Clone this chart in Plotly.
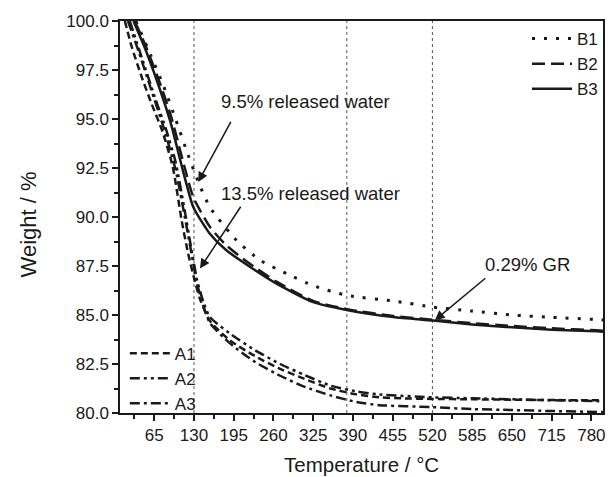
import plotly.graph_objects as go

# ---- data ----
b1_t = [35, 60, 80, 101, 120, 137, 156, 200, 238, 282, 325, 380, 460, 521, 585, 650, 715, 789, 799]
b1_w = [100, 98.2, 96.7, 94.9, 93.2, 91.8, 90.5, 88.8, 87.8, 87.1, 86.5, 86.0, 85.7, 85.4, 85.2, 85.0, 84.88, 84.77, 84.75]

b2_t = [33, 50, 70, 91, 115, 129, 156, 183, 222, 265, 325, 380, 456, 521, 585, 650, 715, 789, 799]
b2_w = [100, 98.8, 97.2, 95.3, 92.5, 91.0, 89.5, 88.55, 87.6, 86.7, 85.72, 85.3, 84.95, 84.76, 84.58, 84.44, 84.32, 84.22, 84.2]

b3_t = [31, 50, 70, 91, 115, 129, 156, 183, 222, 265, 325, 380, 456, 521, 585, 650, 715, 789, 799]
b3_w = [100, 98.6, 96.9, 94.9, 92.0, 90.5, 89.15, 88.3, 87.45, 86.6, 85.66, 85.26, 84.9, 84.72, 84.52, 84.37, 84.25, 84.17, 84.15]

a1_t = [17, 28, 45, 61, 78, 95, 110, 120, 130, 140, 156, 189, 230, 271, 310, 353, 396, 433, 470, 520, 585, 650, 715, 799]
a1_w = [100, 98.7, 97.1, 95.75, 94.4, 92.6, 89.8, 88.2, 86.9, 85.8, 84.7, 83.7, 82.9, 82.25, 81.75, 81.25, 80.95, 80.8, 80.75, 80.72, 80.7, 80.68, 80.66, 80.65]

a2_t = [25, 45, 65, 85, 100, 115, 125, 135, 145, 156, 189, 230, 271, 310, 353, 396, 433, 520, 585, 650, 715, 799]
a2_w = [100, 98.1, 96.2, 94.4, 92.8, 90.3, 88.5, 86.8, 85.7, 84.9, 84.05, 83.2, 82.5, 81.95, 81.4, 81.1, 80.95, 80.8, 80.75, 80.7, 80.65, 80.6]

a3_t = [22, 40, 60, 80, 100, 115, 125, 135, 145, 156, 189, 230, 271, 310, 353, 396, 433, 520, 585, 650, 715, 799]
a3_w = [100, 98.4, 96.5, 94.6, 92.4, 90.0, 88.3, 86.6, 85.5, 84.6, 83.55, 82.6, 81.9, 81.35, 80.9, 80.56, 80.4, 80.3, 80.2, 80.15, 80.1, 80.05]

x_ticks = [65, 130, 195, 260, 325, 390, 455, 520, 585, 650, 715, 780]
y_ticks = [80.0, 82.5, 85.0, 87.5, 90.0, 92.5, 95.0, 97.5, 100.0]
ref_lines = [130, 380, 520]

x_title = "Temperature / °C"
y_title = "Weight / %"

FONT = "Liberation Sans, Arial, sans-serif"
INK = "#1a1a1a"

fig = go.Figure()

series = [
    ("B1", b1_t, b1_w, "3px,9px", "legend", 3),
    ("B2", b2_t, b2_w, "13px,6px", "legend", 2.5),
    ("B3", b3_t, b3_w, "solid", "legend", 2.5),
    ("A1", a1_t, a1_w, "7px,4px", "legend2", 2.5),
    ("A2", a2_t, a2_w, "10px,4px,3px,4px,3px,4px", "legend2", 2.5),
    ("A3", a3_t, a3_w, "10px,4px,3px,4px", "legend2", 2.5),
]
for name, t, w, dash, leg, lw in series:
    fig.add_trace(go.Scatter(
        x=t, y=w, mode="lines", name=name, legend=leg,
        line=dict(color=INK, width=lw, dash=dash, shape="spline", smoothing=0.6),
    ))

for xv in ref_lines:
    fig.add_shape(type="line", xref="x", yref="paper", x0=xv, x1=xv, y0=0, y1=1,
                  line=dict(color="#555555", width=1, dash="3px,3px"), layer="below")

# annotations
fig.add_annotation(x=313, y=95.9, xref="x", yref="y", text="9.5% released water",
                   showarrow=False, font=dict(family=FONT, size=18.5, color=INK))
fig.add_annotation(x=321, y=91.19, xref="x", yref="y", text="13.5% released water",
                   showarrow=False, font=dict(family=FONT, size=18.5, color=INK))
fig.add_annotation(x=676, y=87.6, xref="x", yref="y", text="0.29% GR",
                   showarrow=False, font=dict(family=FONT, size=18.5, color=INK))

arrows = [((137, 91.79), (191.6, 94.93)), ((139.8, 87.37), (208, 90.6)), ((524, 84.73), (609, 86.94))]
for (tx, ty), (sx, sy) in arrows:
    fig.add_annotation(x=tx, y=ty, ax=sx, ay=sy, xref="x", yref="y", axref="x", ayref="y",
                       text="", showarrow=True, arrowhead=2, arrowsize=1.3, arrowwidth=1.5,
                       arrowcolor=INK, standoff=0)

# axis titles
fig.add_annotation(x=0.5, y=-0.131, xref="paper", yref="paper", text=x_title, showarrow=False,
                   xanchor="center", yanchor="middle", font=dict(family=FONT, size=20.5, color=INK))
fig.add_annotation(x=-0.1905, y=0.481, xref="paper", yref="paper", text=y_title, showarrow=False,
                   textangle=-90, xanchor="center", yanchor="middle",
                   font=dict(family=FONT, size=22, color=INK))

fig.update_xaxes(
    range=[9, 799], tickmode="array", tickvals=x_ticks, automargin=False,
    ticks="outside", ticklen=6, tickwidth=1.5, tickcolor=INK,
    minor=dict(ticks="outside", ticklen=4, tickwidth=1.5, tickcolor=INK, dtick=32.5, tick0=0),
    showline=True, linecolor=INK, linewidth=1.5, mirror=True, showgrid=False, zeroline=False,
    tickfont=dict(family=FONT, size=17, color=INK),
)
fig.update_yaxes(
    range=[80, 100], tickmode="array", tickvals=y_ticks, tickformat=".1f", automargin=False,
    ticks="outside", ticklen=6, tickwidth=1.5, tickcolor=INK,
    minor=dict(ticks="outside", ticklen=4, tickwidth=1.5, tickcolor=INK, dtick=1.25, tick0=80),
    showline=True, linecolor=INK, linewidth=1.5, mirror=True, showgrid=False, zeroline=False,
    tickfont=dict(family=FONT, size=17, color=INK),
)

fig.update_layout(
    width=616, height=477,
    margin=dict(l=120, r=13, t=21, b=64),
    paper_bgcolor="white", plot_bgcolor="white",
    font=dict(family=FONT, color=INK),
    showlegend=True,
    legend=dict(x=1, xanchor="right", y=1, yanchor="top", bgcolor="rgba(0,0,0,0)",
                font=dict(family=FONT, size=17, color=INK), tracegroupgap=0, itemwidth=40),
    legend2=dict(x=0.01, xanchor="left", y=-0.022, yanchor="bottom", bgcolor="rgba(0,0,0,0)",
                 font=dict(family=FONT, size=17, color=INK), tracegroupgap=0, itemwidth=40),
)

fig.write_html("out.html")
